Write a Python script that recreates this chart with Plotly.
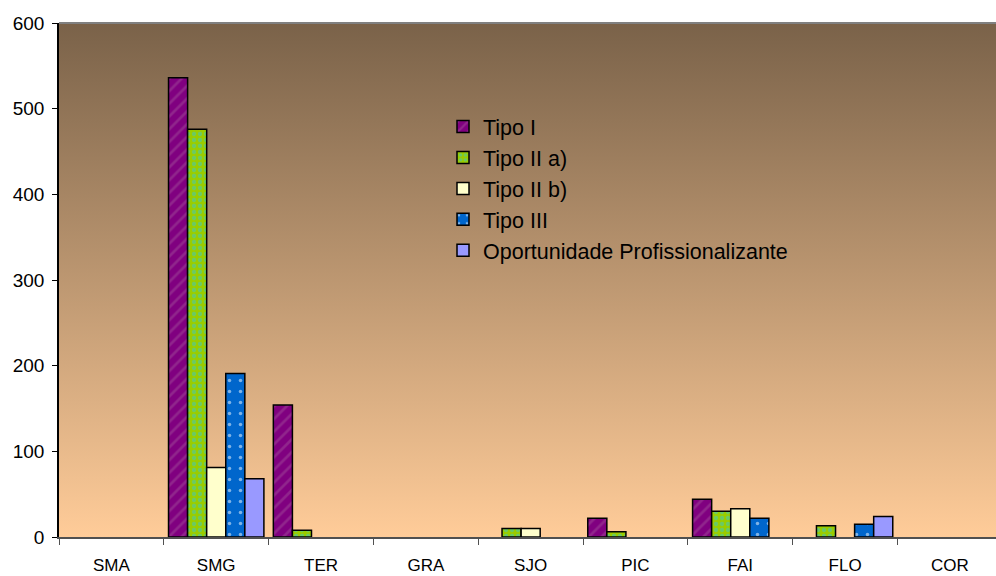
import base64
import plotly.graph_objects as go

categories = ["SMA", "SMG", "TER", "GRA", "SJO", "PIC", "FAI", "FLO", "COR"]
tipo_i = [None, 536, 154, None, None, 22, 44, None, None]
tipo_iia = [None, 476, 8, None, 10, 6, 30, 13, None]
tipo_iib = [None, 81, None, None, 10, None, 33, None, None]
tipo_iii = [None, 191, None, None, None, None, 22, 15, None]
oport = [None, 68, None, None, None, None, None, 24, None]
series_names = ["Tipo I", "Tipo II a)", "Tipo II b)", "Tipo III", "Oportunidade Profissionalizante"]
y_ticks = [0, 100, 200, 300, 400, 500, 600]

FONT = "Liberation Sans, Arial, sans-serif"
W, H = 996, 576
ML, MR, MT, MB = 59, 0, 23, 39

styles = [
    dict(color="#800080", pattern=dict(shape="/", fgcolor="#A04A98", size=9, solidity=0.3)),
    dict(color="#99CC00", pattern=dict(shape=".", fgcolor="#3CC8C8", size=6, solidity=0.4)),
    dict(color="#FFFFCC", pattern=None),
    dict(color="#0066CC", pattern=dict(shape=".", fgcolor="#FFFFFF", size=11, solidity=0.08)),
    dict(color="#9999FF", pattern=None),
]

fig = go.Figure()
for name, vals, st in zip(series_names, [tipo_i, tipo_iia, tipo_iib, tipo_iii, oport], styles):
    marker = dict(color=st["color"], line=dict(color="#000000", width=1.5))
    if st["pattern"]:
        marker["pattern"] = st["pattern"]
    fig.add_trace(go.Bar(name=name, x=categories, y=vals, marker=marker))

svg = ('<svg xmlns="http://www.w3.org/2000/svg" width="100" height="100" preserveAspectRatio="none">'
       '<defs><linearGradient id="g" x1="0" y1="0" x2="0" y2="1">'
       '<stop offset="0" stop-color="#7A6249"/><stop offset="1" stop-color="#FFCC99"/>'
       '</linearGradient></defs><rect width="100" height="100" fill="url(#g)"/></svg>')
src = "data:image/svg+xml;base64," + base64.b64encode(svg.encode()).decode()

pw = W - ML - MR
ph = H - MT - MB
legend_left_px, legend_right_px = 400, 868
shapes = []
for t in y_ticks[1:-1]:
    if t == 400:
        segs = [(0, (legend_left_px - ML) / pw), ((legend_right_px - ML) / pw, 1)]
    else:
        segs = [(0, 1)]
    for a, b in segs:
        shapes.append(dict(type="line", xref="x domain", yref="y", x0=a, x1=b, y0=t, y1=t,
                           line=dict(color="#000000", width=1), layer="below"))
shapes.append(dict(type="line", xref="x domain", yref="y domain", x0=0, x1=1, y0=1, y1=1,
                   line=dict(color="#808080", width=2), layer="above"))

fig.update_layout(
    width=W, height=H,
    margin=dict(l=ML, r=MR, t=MT, b=MB, pad=0),
    paper_bgcolor="#FFFFFF", plot_bgcolor="rgba(0,0,0,0)",
    barmode="group", bargap=0.09, bargroupgap=0,
    font=dict(family=FONT, size=18, color="#000000"),
    showlegend=True,
    legend=dict(x=(443 - ML) / pw, y=1 - (106 - MT) / ph, xanchor="left", yanchor="top",
                bgcolor="rgba(0,0,0,0)", borderwidth=0, font=dict(size=21.5, family=FONT, color="#000000"),
                traceorder="normal", tracegroupgap=0),
    images=[dict(source=src, xref="x domain", yref="y domain", x=0, y=1, sizex=1, sizey=1,
                 xanchor="left", yanchor="top", sizing="stretch", layer="below")],
    shapes=shapes,
    xaxis=dict(type="category", range=[-0.5, 8.44], showgrid=False, showline=True, linecolor="#505050",
               linewidth=1.5, ticks="outside", tickson="boundaries", ticklen=6, tickcolor="#505050",
               ticklabelstandoff=12,
               tickfont=dict(size=17, family=FONT), fixedrange=True),
    yaxis=dict(range=[0, 600], tickvals=y_ticks, showgrid=False, zeroline=False, showline=True,
               linecolor="#000000", linewidth=1.5, ticks="outside", ticklen=5, tickcolor="#000000",
               ticklabelstandoff=4,
               tickfont=dict(size=19, family=FONT), fixedrange=True),
)
fig.write_html("out.html", config={"displayModeBar": False},
               post_script="document.body.style.margin='0';document.body.style.padding='0';")
